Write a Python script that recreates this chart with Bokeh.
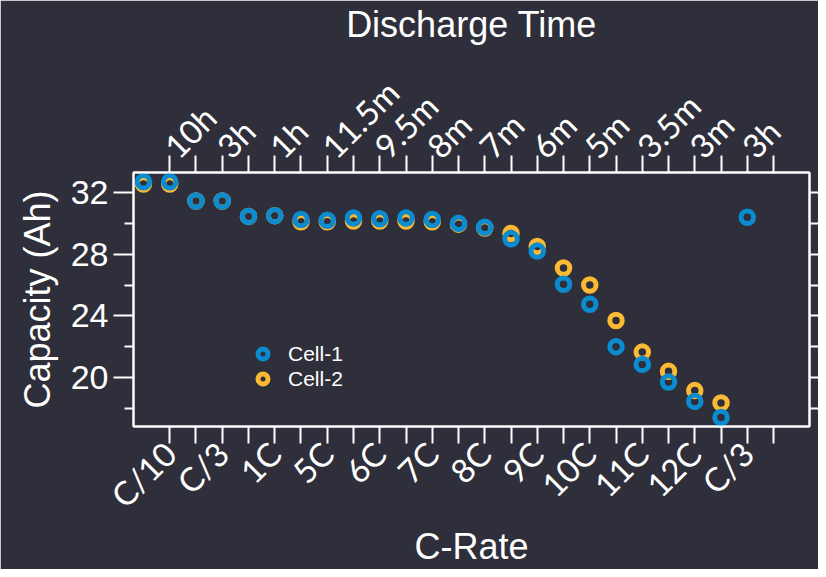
import math
from bokeh.plotting import figure
from bokeh.models import LinearAxis, FixedTicker, Range1d, Legend, LegendItem, ColumnDataSource
from bokeh.embed import file_html
from bokeh.resources import INLINE

# ---- data ----
x_pos_1 = [0, 1, 2, 3, 4, 5, 6, 7, 8, 9, 10, 11, 12, 13, 14, 15, 16, 17, 18, 19, 20, 21, 22, 23]
cell1 = [32.7, 32.7, 31.45, 31.45, 30.45, 30.5, 30.25, 30.2, 30.35, 30.3, 30.35, 30.25,
         30.0, 29.75, 29.0, 28.2, 26.05, 24.75, 22.0, 20.85, 19.7, 18.45, 17.4, 30.4]
x_pos_2 = [0, 1, 2, 3, 4, 5, 6, 7, 8, 9, 10, 11, 12, 13, 14, 15, 16, 17, 18, 19, 20, 21, 22]
cell2 = [32.55, 32.55, 31.45, 31.45, 30.45, 30.5, 30.1, 30.1, 30.15, 30.15, 30.15, 30.1,
         29.95, 29.7, 29.35, 28.5, 27.1, 26.0, 23.7, 21.65, 20.4, 19.15, 18.35]

tick_pos = [1, 2, 3, 4, 5, 6, 7, 8, 9, 10, 11, 12, 13, 14, 15, 16, 17, 18, 19, 20, 21, 22, 23, 24]
label_pos = [1, 3, 5, 7, 9, 11, 13, 15, 17, 19, 21, 23]
crate_labels = ["C/10", "C/3", "1C", "5C", "6C", "7C", "8C", "9C", "10C", "11C", "12C", "C/3"]
time_labels = ["10h", "3h", "1h", "11.5m", "9.5m", "8m", "7m", "6m", "5m", "3.5m", "3m", "3h"]
y_major = [20, 24, 28, 32]
y_minor = [18, 22, 26, 30]
y_right = [18, 20, 22, 24, 26, 28, 30, 32]

BG = "#2e2f3a"
BLUE = "#0b8bd0"
ORANGE = "#fcb933"
FONT = "Liberation Sans"
TFONT = "Lato"

p = figure(width=818, height=569, x_range=Range1d(-0.38, 25.37), y_range=Range1d(16.82, 33.3),
           output_backend="svg", toolbar_location=None,
           x_axis_location=None, y_axis_location=None,
           min_border_left=133, min_border_right=9, min_border_top=172, min_border_bottom=143,
           background_fill_color=BG, border_fill_color=BG,
           outline_line_color="white", outline_line_width=2)
p.xgrid.visible = False
p.ygrid.visible = False


def style_axis(ax):
    ax.axis_line_color = "white"
    ax.axis_line_width = 2
    ax.major_tick_line_color = "white"
    ax.major_tick_line_width = 2
    ax.minor_tick_line_color = "white"
    ax.minor_tick_line_width = 2
    ax.major_tick_in = 0
    ax.minor_tick_in = 0
    ax.major_label_text_color = "white"
    ax.axis_label_text_color = "white"
    ax.axis_label_text_font = FONT
    ax.axis_label_text_font_style = "normal"
    ax.axis_label_text_font_size = "36px"


bottom_over = {t: "" for t in tick_pos}
top_over = {t: "" for t in tick_pos}
for pos, a, b in zip(label_pos, crate_labels, time_labels):
    bottom_over[pos] = a
    top_over[pos] = b

xb = LinearAxis(ticker=FixedTicker(ticks=tick_pos), major_label_overrides=bottom_over,
                axis_label="C-Rate", major_label_orientation=math.pi / 4)
style_axis(xb)
xb.major_tick_out = 17
xb.minor_tick_line_color = None
xb.major_label_text_font = TFONT
xb.major_label_text_font_size = "33px"
xb.major_label_standoff = 4
xb.axis_label_standoff = -6
p.add_layout(xb, "below")

xt = LinearAxis(ticker=FixedTicker(ticks=tick_pos), major_label_overrides=top_over,
                axis_label="Discharge Time", major_label_orientation=math.pi / 4)
style_axis(xt)
xt.major_tick_out = 17
xt.minor_tick_line_color = None
xt.major_label_text_font = TFONT
xt.major_label_text_font_size = "33px"
xt.major_label_standoff = 4
xt.axis_label_standoff = 10
p.add_layout(xt, "above")

yl = LinearAxis(ticker=FixedTicker(ticks=y_major, minor_ticks=y_minor), axis_label="Capacity (Ah)")
style_axis(yl)
yl.major_tick_out = 20
yl.minor_tick_out = 9
yl.major_label_text_font = FONT
yl.major_label_text_font_size = "34px"
yl.major_label_standoff = 5
yl.axis_label_standoff = 10
p.add_layout(yl, "left")

yr = LinearAxis(ticker=FixedTicker(ticks=y_right), major_label_overrides={t: "" for t in y_right})
style_axis(yr)
yr.major_tick_out = 9
yr.minor_tick_line_color = None
yr.major_label_standoff = 0
p.add_layout(yr, "right")

src2 = ColumnDataSource(dict(x=x_pos_2, y=cell2))
src1 = ColumnDataSource(dict(x=x_pos_1, y=cell1))
r2 = p.scatter("x", "y", source=src2, marker="circle", size=12.5, fill_color=None,
               line_color=ORANGE, line_width=5)
r1 = p.scatter("x", "y", source=src1, marker="circle", size=12.5, fill_color=None,
               line_color=BLUE, line_width=5)

legend = Legend(items=[LegendItem(label="Cell-1", renderers=[r1]),
                       LegendItem(label="Cell-2", renderers=[r2])],
                location=(117, 35), background_fill_alpha=0, border_line_color=None,
                label_text_color="white", label_text_font=FONT, label_text_font_size="21px",
                glyph_width=25, glyph_height=25, label_standoff=13, spacing=0, padding=10,
                label_height=20)
p.add_layout(legend, "center")

open("out.html", "w").write(file_html(p, INLINE))
